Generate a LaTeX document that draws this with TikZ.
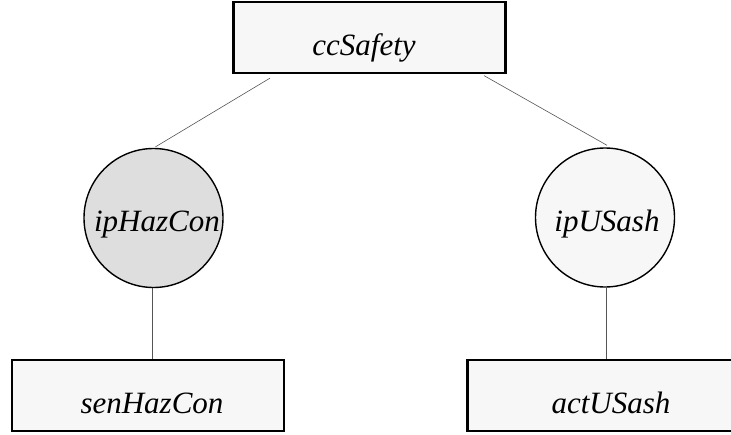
\documentclass[tikz,border=0pt]{standalone}
\usepackage{fontspec}
\setmainfont{Liberation Serif}
\definecolor{boxfill}{HTML}{F7F7F7}
\definecolor{greyfill}{HTML}{DEDEDE}
\definecolor{linkcol}{HTML}{555555}
\begin{document}
\begin{tikzpicture}[x=1pt,y=-1pt,
  boxnode/.style={draw=black,line width=2.2pt,fill=boxfill,rectangle,minimum width=272pt,minimum height=71pt,inner sep=0pt},
  circnode/.style={draw=black,line width=1.4pt,circle,minimum size=139pt,inner sep=0pt},
  lbl/.style={anchor=base,inner sep=0pt,font=\fontsize{31}{36}\selectfont\itshape},
  link/.style={draw=linkcol,line width=0.6pt}]
\useasboundingbox (0,0) rectangle (731,434);
\node[boxnode] (top) at (369.5,37.5) {};
\node[circnode,fill=greyfill] (c1) at (153.5,218) {};
\node[circnode,fill=boxfill] (c2) at (605,217.5) {};
\node[boxnode] (b1) at (148,395.5) {};
\node[boxnode] (b2) at (603.5,395.5) {};
\node[lbl] (t0) at (364,55) {ccSafety};
\node[lbl] (t1) at (157,231.5) {ipHazCon};
\node[lbl] (t2) at (607,231) {ipUSash};
\node[lbl] (t3) at (152,413) {senHazCon};
\node[lbl] (t4) at (611,413) {actUSash};
\draw[link] ([xshift=-99.5pt,yshift=-4pt]top.south) -- ([xshift=2pt,yshift=1pt]c1.north);
\draw[link] ([xshift=114.5pt,yshift=-1.5pt]top.south) -- ([xshift=2pt,yshift=2pt]c2.north);
\draw[link] ([xshift=-1pt]c1.south) -- ([xshift=-1pt]c1.south |- b1.north);
\draw[link] ([xshift=1.5pt]c2.south) -- ([xshift=1.5pt]c2.south |- b2.north);
\end{tikzpicture}
\end{document}
